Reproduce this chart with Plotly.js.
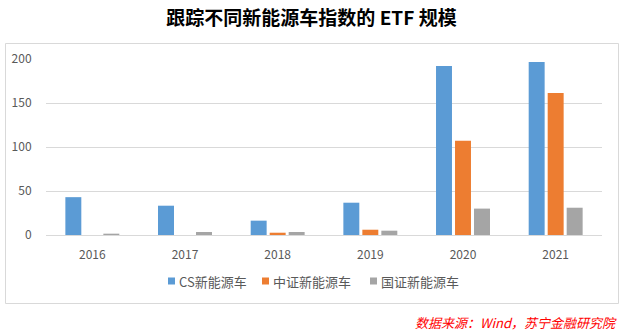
<!DOCTYPE html>
<html>
<head>
<meta charset="utf-8">
<script src="https://cdn.plot.ly/plotly-3.0.1.min.js"></script>
<style>html,body{margin:0;padding:0;background:#fff;}#chart{width:623px;height:333px;}</style>
</head>
<body>
<div id="chart"></div>
<script>
const years = ['2016', '2017', '2018', '2019', '2020', '2021'];
const seriesNames = ['CS新能源车', '中证新能源车', '国证新能源车'];
const csValues = [43, 33.3, 16.3, 36.7, 192, 196.6];
const zzValues = [0, 0, 2.6, 6, 107, 161.4];
const gzValues = [1.5, 3.4, 3.4, 4.9, 30, 31];
const colors = ['#5b9bd5', '#ed7d31', '#a5a5a5'];

const font = 'Noto Sans CJK SC, sans-serif';
const traces = [csValues, zzValues, gzValues].map((v, i) => ({
  type: 'bar', x: years, y: v, name: seriesNames[i], showlegend: false,
  marker: {color: colors[i]}, hoverinfo: 'skip'
}));

const L = 46, R = 602, T = 59, B = 235;
const pw = R - L, ph = B - T;
const px = x => (x - L) / pw;
const py = y => (B - y) / ph;

// custom legend (small square swatches like the reference)
const legendSwatchX = [168, 262, 370];
const legendY = 281;
const shapes = [{type: 'rect', xref: 'paper', yref: 'paper', x0: px(5.5), x1: px(618.5), y0: py(303.5), y1: py(43.5),
                 line: {color: '#d9d9d9', width: 1}, fillcolor: 'rgba(0,0,0,0)', layer: 'below'}];
const annotations = [{text: '<i>数据来源：Wind，苏宁金融研究院</i>', xref: 'paper', yref: 'paper', x: px(619), y: py(322),
                 xanchor: 'right', yanchor: 'middle', showarrow: false,
                 font: {family: font, size: 13, color: '#ff0000'}}];
seriesNames.forEach((n, i) => {
  const sx = legendSwatchX[i];
  shapes.push({type: 'rect', xref: 'paper', yref: 'paper', x0: px(sx), x1: px(sx + 7), y0: py(legendY + 3.5), y1: py(legendY - 3.5),
               line: {width: 0}, fillcolor: colors[i]});
  annotations.push({text: n, xref: 'paper', yref: 'paper', x: px(sx + 9), y: py(legendY),
                    xanchor: 'left', yanchor: 'middle', showarrow: false,
                    font: {family: font, size: 13, color: '#595959'}});
});

const layout = {
  width: 623, height: 333,
  paper_bgcolor: '#ffffff', plot_bgcolor: '#ffffff',
  margin: {l: L, r: 623 - R, t: T, b: 333 - B},
  title: {text: '跟踪不同新能源车指数的 ETF 规模', font: {family: font, size: 19, color: '#000', weight: 'bold'},
          x: 0.5, xref: 'container', xanchor: 'center', y: 1 - 18 / 333, yref: 'container', yanchor: 'middle'},
  barmode: 'group', bargap: 0.385, bargroupgap: 0.16,
  showlegend: false,
  xaxis: {type: 'category', showgrid: false, zeroline: false, showline: false,
          ticks: 'outside', ticklen: 9, tickcolor: 'rgba(0,0,0,0)',
          tickfont: {family: font, size: 12, color: '#595959'}, fixedrange: true},
  yaxis: {range: [0, 200], tickvals: [0, 50, 100, 150, 200], showgrid: true, gridcolor: '#d9d9d9',
          zeroline: true, zerolinecolor: '#d9d9d9', zerolinewidth: 1, showline: false,
          ticks: 'outside', ticklen: 11, tickcolor: 'rgba(0,0,0,0)',
          tickfont: {family: font, size: 12, color: '#595959'}, fixedrange: true},
  shapes: shapes,
  annotations: annotations
};

Plotly.newPlot('chart', traces, layout, {staticPlot: true, displayModeBar: false});
</script>
</body>
</html>
